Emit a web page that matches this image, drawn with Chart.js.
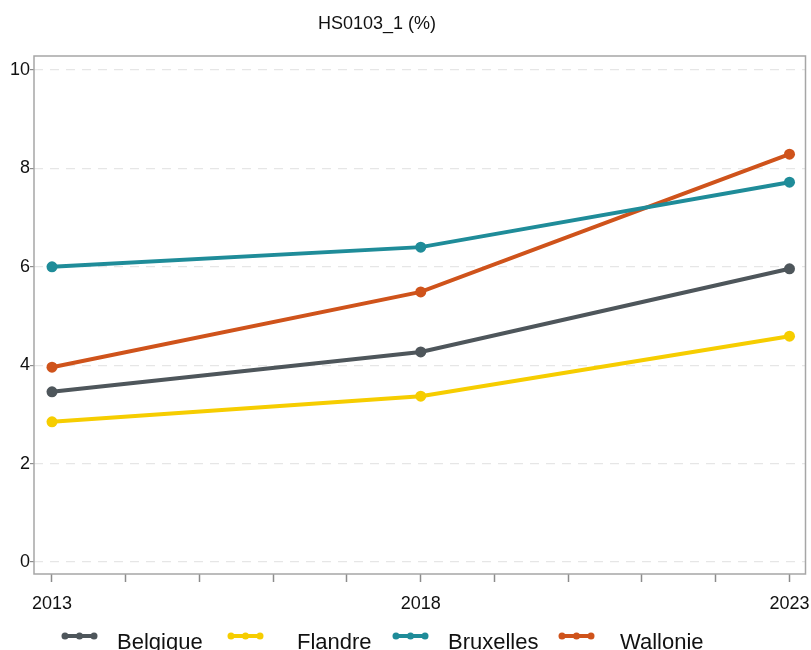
<!DOCTYPE html>
<html>
<head>
<meta charset="utf-8">
<script src="https://cdn.jsdelivr.net/npm/chart.js@4/dist/chart.umd.min.js"></script>
<style>
  html, body { margin: 0; padding: 0; background: #fff; }
  #wrap { width: 811px; height: 650px; }
</style>
</head>
<body>
<div id="wrap"><canvas id="myChart" width="811" height="650"></canvas></div>
<script>
const titleText = 'HS0103_1 (%)';
const years = [2013, 2018, 2023];
const xTickLabels = [2013, 2018, 2023];
const yTicks = [0, 2, 4, 6, 8, 10];

const seriesNames = ['Belgique', 'Flandre', 'Bruxelles', 'Wallonie'];
const belgique = [3.46, 4.27, 5.96];
const flandre = [2.85, 3.37, 4.59];
const bruxelles = [6.0, 6.40, 7.72];
const wallonie = [3.96, 5.49, 8.29];

const colors = ['#4e565b', '#f6cd00', '#1f8c99', '#cf531b'];
const allValues = [belgique, flandre, bruxelles, wallonie];

const ctx = document.getElementById('myChart');
const fontFam = '"Liberation Sans", Arial, Helvetica, sans-serif';

// frame, title and the bottom legend
const decoPlugin = {
	id: 'deco',
	afterDraw(chart) {
		const c = chart.ctx;
		const a = chart.chartArea;
		c.save();
		c.strokeStyle = '#a6a6a6';
		c.lineWidth = 1.5;
		c.strokeRect(a.left, a.top, a.right - a.left, a.bottom - a.top);

		c.fillStyle = '#111';
		c.font = '18px ' + fontFam;
		c.textAlign = 'center';
		c.textBaseline = 'middle';
		c.fillText(titleText, 377, 24);

		// legend
		const legX = [62, 228, 393, 559];
		const textX = [117, 297, 448, 620];
		c.textAlign = 'left';
		c.font = '22px ' + fontFam;
		chart.data.datasets.forEach((ds, i) => {
			const x0 = legX[i];
			const y = 636;
			c.strokeStyle = ds.borderColor;
			c.fillStyle = ds.borderColor;
			c.lineWidth = 4;
			c.beginPath();
			c.moveTo(x0 + 2, y);
			c.lineTo(x0 + 33, y);
			c.stroke();
			[x0 + 3, x0 + 17.5, x0 + 32].forEach(px => {
				c.beginPath();
				c.arc(px, y, 3.5, 0, Math.PI * 2);
				c.fill();
			});
			c.fillStyle = '#111';
			c.fillText(ds.label, textX[i], 643);
		});
		c.restore();
	}
};

new Chart(ctx, {
	type: 'line',
	data: {
		datasets: seriesNames.map((name, i) => ({
			label: name,
			data: years.map((yr, j) => ({ x: yr, y: allValues[i][j] })),
			borderColor: colors[i],
			backgroundColor: colors[i],
			borderWidth: 4,
			pointRadius: 5.5,
			pointHoverRadius: 5.5,
			pointBorderWidth: 0,
			tension: 0
		}))
	},
	options: {
		responsive: false,
		animation: false,
		layout: { padding: { left: 0, top: 56, right: 5, bottom: 0 } },
		plugins: {
			legend: { display: false },
			title: { display: false },
			tooltip: { enabled: false }
		},
		scales: {
			x: {
				type: 'linear',
				min: 2012.756,
				max: 2023.217,
				afterBuildTicks: (s) => {
					const t = [];
					for (let yr = 2013; yr <= 2023; yr++) t.push({ value: yr });
					s.ticks = t;
				},
				afterFit: (s) => {
					s.height = 76;
					s.paddingLeft = 0;
					s.paddingRight = 0;
				},
				grid: {
					drawOnChartArea: false,
					drawTicks: true,
					tickLength: 8,
					tickColor: '#8c8c8c',
					tickWidth: 1.5
				},
				border: { display: false },
				ticks: {
					autoSkip: false,
					maxRotation: 0,
					padding: 11,
					color: '#111',
					font: { family: fontFam, size: 18 },
					callback: (v) => xTickLabels.includes(v) ? String(v) : ''
				}
			},
			y: {
				min: -0.244,
				max: 10.285,
				afterBuildTicks: (s) => { s.ticks = yTicks.map(v => ({ value: v })); },
				afterFit: (s) => {
					s.width = 34;
					s.paddingTop = 0;
					s.paddingBottom = 0;
				},
				grid: {
					color: '#e6e6e6',
					lineWidth: 1.2,
					drawTicks: true,
					tickLength: 4,
					tickColor: '#8c8c8c',
					tickBorderDash: []
				},
				border: { display: false, dash: [9, 7] },
				ticks: {
					padding: 0,
					color: '#111',
					font: { family: fontFam, size: 18 }
				}
			}
		}
	},
	plugins: [decoPlugin]
});
</script>
</body>
</html>
